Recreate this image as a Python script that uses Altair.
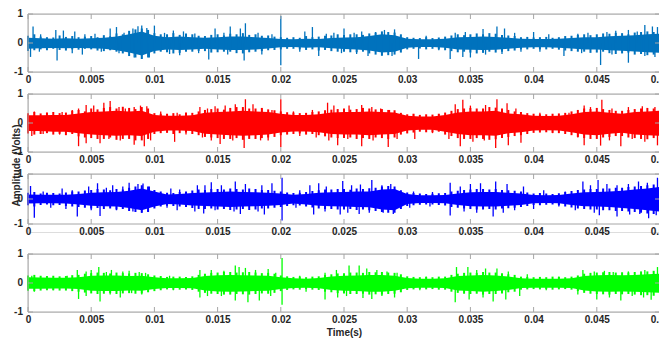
import altair as alt
import pandas as pd

# ---------------- data ----------------
X_DOMAIN = [0, 0.05]
Y_DOMAIN = [-1, 1]
X_TICKS = [0, 0.005, 0.01, 0.015, 0.02, 0.025, 0.03, 0.035, 0.04, 0.045, 0.05]
Y_TICKS = [-1, 0, 1]
Y_LABELS = ["-1", "0", "1"]
ENV_MS = list(range(51))                 # dense-band envelope sample times, ms
HAIR_MS = [i * 0.5 for i in range(101)]  # texture-spike sample times, ms

# ---- panel 1 ----
hi1 = [0.18, 0.16, 0.15, 0.16, 0.15, 0.16, 0.18, 0.22, 0.3, 0.4, 0.25, 0.2, 0.22, 0.2, 0.18, 0.2, 0.22,
       0.22, 0.2, 0.17, 0.14, 0.13, 0.15, 0.14, 0.17, 0.19, 0.2, 0.24, 0.3, 0.27, 0.15, 0.13, 0.13, 0.15,
       0.2, 0.21, 0.22, 0.21, 0.18, 0.15, 0.14, 0.14, 0.15, 0.17, 0.2, 0.2, 0.23, 0.25, 0.27, 0.3, 0.32]
lo1 = [-0.2, -0.18, -0.17, -0.18, -0.17, -0.18, -0.2, -0.25, -0.33, -0.43, -0.28, -0.22, -0.24, -0.22,
       -0.2, -0.22, -0.24, -0.24, -0.22, -0.19, -0.15, -0.14, -0.16, -0.15, -0.18, -0.21, -0.22, -0.26,
       -0.33, -0.3, -0.16, -0.14, -0.14, -0.16, -0.22, -0.23, -0.24, -0.23, -0.2, -0.16, -0.15, -0.15,
       -0.16, -0.19, -0.22, -0.22, -0.25, -0.27, -0.29, -0.32, -0.34]
hairU1 = [0.25, 0.3, 0.22, 0.2, 0.19, 0.26, 0.21, 0.24, 0.2, 0.22, 0.24, 0.2, 0.27, 0.23, 0.33, 0.3, 0.42, 0.47, 0.5, 0.45,
          0.34, 0.3, 0.3, 0.34, 0.28, 0.33, 0.3, 0.25, 0.24, 0.28, 0.3, 0.26, 0.32, 0.3, 0.34, 0.28, 0.3, 0.25, 0.26, 0.22,
          0.2, 0.18, 0.2, 0.18, 0.24, 0.2, 0.22, 0.25, 0.26, 0.3, 0.28, 0.3, 0.3, 0.28, 0.33, 0.36, 0.4, 0.38, 0.36, 0.3,
          0.2, 0.18, 0.17, 0.2, 0.17, 0.19, 0.22, 0.26, 0.3, 0.27, 0.3, 0.33, 0.3, 0.34, 0.32, 0.28, 0.26, 0.24, 0.2, 0.21,
          0.19, 0.2, 0.21, 0.18, 0.2, 0.24, 0.25, 0.28, 0.3, 0.27, 0.3, 0.33, 0.32, 0.35, 0.34, 0.3, 0.36, 0.38, 0.4, 0.38,
          0.42]
hairD1 = [-0.28, -0.25, -0.22, -0.25, -0.2, -0.24, -0.26, -0.22, -0.23, -0.2, -0.22, -0.26, -0.28, -0.25, -0.3, -0.36, -0.45, -0.5, -0.55, -0.5,
          -0.36, -0.3, -0.32, -0.36, -0.34, -0.3, -0.3, -0.27, -0.28, -0.33, -0.32, -0.3, -0.3, -0.35, -0.36, -0.32, -0.3, -0.28, -0.25, -0.24,
          -0.22, -0.2, -0.2, -0.22, -0.24, -0.22, -0.26, -0.24, -0.28, -0.3, -0.3, -0.32, -0.32, -0.3, -0.36, -0.4, -0.44, -0.42, -0.4, -0.33,
          -0.22, -0.2, -0.19, -0.22, -0.2, -0.22, -0.25, -0.28, -0.32, -0.3, -0.33, -0.36, -0.34, -0.3, -0.33, -0.3, -0.28, -0.26, -0.22, -0.22,
          -0.2, -0.22, -0.22, -0.2, -0.23, -0.26, -0.28, -0.3, -0.3, -0.34, -0.33, -0.3, -0.35, -0.38, -0.36, -0.33, -0.4, -0.38, -0.42, -0.4,
          -0.44]
spk1 = [(0.4, 0.57), (1.0, 0.3), (2.2, 0.45), (2.8, 0.43), (3.7, 0.4), (4.5, 0.3), (5.3, 0.32), (6.5, 0.5),
        (7.0, 0.55), (7.6, 0.35), (8.3, 0.5), (8.7, 0.58), (9.0, 0.6), (9.4, 0.52), (10.0, 0.6), (10.8, 0.35),
        (11.5, 0.43), (12.3, 0.4), (13.2, 0.33), (14.8, 0.5), (15.5, 0.35), (16.0, 0.57), (16.8, 0.5),
        (17.2, 0.68), (18.2, 0.35), (19.3, 0.3), (20.0, 0.93), (21.9, 0.4), (22.5, 0.55), (23.6, 0.32),
        (24.2, 0.35), (25.0, 0.5), (25.8, 0.35), (26.4, 0.4), (27.5, 0.38), (28.2, 0.45), (29.0, 0.47),
        (31.5, 0.25), (33.8, 0.35), (34.6, 0.38), (36.0, 0.48), (37.1, 0.57), (37.7, 0.5), (38.5, 0.35),
        (40.0, 0.38), (41.2, 0.3), (43.5, 0.32), (44.3, 0.35), (45.8, 0.38), (46.5, 0.42), (47.5, 0.45),
        (48.2, 0.4), (48.8, 0.62), (49.4, 0.57), (49.8, 0.55),
        (0.2, -0.48), (0.9, -0.3), (2.3, -0.6), (3.5, -0.35), (4.3, -0.4), (5.8, -0.3), (7.2, -0.35),
        (8.4, -0.5), (9.0, -0.55), (9.6, -0.5), (11.2, -0.38), (12.0, -0.42), (13.5, -0.35), (14.3, -0.57),
        (15.8, -0.4), (17.1, -0.6), (18.5, -0.4), (20.0, -0.77), (21.5, -0.3), (23.0, -0.45), (24.8, -0.35),
        (26.0, -0.38), (26.9, -0.45), (28.0, -0.42), (28.8, -0.45), (30.9, -0.55), (32.5, -0.25),
        (33.4, -0.55), (34.4, -0.48), (35.0, -0.5), (36.2, -0.4), (37.5, -0.38), (39.0, -0.3), (40.5, -0.3),
        (42.4, -0.45), (43.8, -0.35), (45.3, -0.76), (46.2, -0.4), (47.5, -0.68), (48.8, -0.45), (49.6, -0.48)]

# ---- panel 2 ----
hi2 = [0.27, 0.27, 0.28, 0.28, 0.33, 0.38, 0.4, 0.42, 0.4, 0.42, 0.28, 0.25, 0.25, 0.27, 0.35, 0.38, 0.4,
       0.42, 0.4, 0.38, 0.32, 0.28, 0.28, 0.3, 0.36, 0.38, 0.38, 0.4, 0.38, 0.36, 0.25, 0.22, 0.22, 0.28,
       0.36, 0.4, 0.4, 0.42, 0.33, 0.3, 0.25, 0.24, 0.25, 0.3, 0.38, 0.4, 0.35, 0.32, 0.38, 0.4, 0.42]
lo2 = [-0.28, -0.28, -0.3, -0.3, -0.35, -0.4, -0.42, -0.44, -0.42, -0.45, -0.3, -0.26, -0.26, -0.28, -0.37,
       -0.4, -0.42, -0.44, -0.42, -0.4, -0.33, -0.29, -0.29, -0.32, -0.38, -0.4, -0.4, -0.42, -0.4, -0.38,
       -0.26, -0.23, -0.23, -0.3, -0.38, -0.42, -0.42, -0.44, -0.35, -0.32, -0.26, -0.25, -0.26, -0.32,
       -0.4, -0.42, -0.37, -0.34, -0.4, -0.42, -0.44]
hairU2 = [0.34, 0.38, 0.33, 0.36, 0.38, 0.34, 0.36, 0.42, 0.45, 0.4, 0.5, 0.47, 0.52, 0.55, 0.5, 0.56, 0.52, 0.48, 0.55, 0.5,
          0.34, 0.32, 0.32, 0.34, 0.3, 0.36, 0.35, 0.4, 0.45, 0.48, 0.5, 0.46, 0.52, 0.55, 0.55, 0.5, 0.5, 0.52, 0.47, 0.44,
          0.4, 0.37, 0.36, 0.34, 0.35, 0.38, 0.4, 0.44, 0.46, 0.48, 0.5, 0.46, 0.48, 0.52, 0.5, 0.47, 0.48, 0.45, 0.44, 0.35,
          0.3, 0.32, 0.28, 0.3, 0.29, 0.32, 0.36, 0.42, 0.48, 0.5, 0.52, 0.5, 0.5, 0.55, 0.53, 0.5, 0.45, 0.4, 0.38, 0.34,
          0.32, 0.3, 0.3, 0.32, 0.33, 0.35, 0.4, 0.45, 0.5, 0.48, 0.52, 0.48, 0.45, 0.42, 0.42, 0.45, 0.48, 0.5, 0.52, 0.5,
          0.54]
hairD2 = [-0.36, -0.4, -0.38, -0.35, -0.4, -0.37, -0.42, -0.38, -0.46, -0.5, -0.52, -0.55, -0.55, -0.5, -0.58, -0.55, -0.55, -0.6, -0.6, -0.55,
          -0.38, -0.35, -0.34, -0.38, -0.35, -0.33, -0.38, -0.42, -0.48, -0.5, -0.52, -0.55, -0.55, -0.52, -0.58, -0.55, -0.55, -0.52, -0.5, -0.48,
          -0.42, -0.4, -0.38, -0.36, -0.4, -0.38, -0.42, -0.46, -0.5, -0.52, -0.52, -0.5, -0.55, -0.52, -0.55, -0.5, -0.52, -0.55, -0.5, -0.4,
          -0.36, -0.33, -0.3, -0.32, -0.32, -0.3, -0.4, -0.45, -0.52, -0.55, -0.55, -0.52, -0.55, -0.58, -0.56, -0.52, -0.48, -0.45, -0.42, -0.38,
          -0.34, -0.33, -0.32, -0.34, -0.35, -0.38, -0.42, -0.48, -0.52, -0.55, -0.55, -0.5, -0.48, -0.45, -0.45, -0.5, -0.52, -0.55, -0.56, -0.52,
          -0.55]
spk2 = [(0.5, 0.4), (1.5, 0.35), (2.7, 0.38), (3.5, 0.45), (4.0, 0.5), (4.6, 0.62), (5.2, 0.6), (6.0, 0.7),
        (6.5, 0.76), (7.2, 0.55), (7.7, 0.5), (8.4, 0.55), (8.9, 0.6), (9.4, 0.58), (10.5, 0.4), (11.8, 0.35),
        (13.6, 0.55), (14.2, 0.5), (14.8, 0.58), (15.6, 0.6), (16.4, 0.65), (17.2, 0.82), (17.8, 0.65),
        (18.5, 0.5), (19.3, 0.45), (20.0, 0.82), (21.0, 0.4), (22.5, 0.45), (23.7, 0.7), (24.2, 0.6),
        (25.4, 0.6), (26.4, 0.62), (27.2, 0.55), (27.9, 0.5), (28.6, 0.45), (30.5, 0.3), (32.5, 0.3),
        (33.8, 0.65), (34.4, 0.8), (35.0, 0.6), (36.2, 0.62), (37.1, 0.82), (37.9, 0.68), (38.6, 0.5),
        (40.5, 0.35), (42.8, 0.35), (44.0, 0.6), (44.5, 0.55), (45.4, 0.8), (46.2, 0.5), (47.5, 0.55),
        (48.6, 0.58), (49.6, 0.55),
        (0.3, -0.45), (1.2, -0.38), (2.5, -0.4), (4.0, -0.8), (4.6, -0.7), (5.7, -0.7), (6.4, -0.55),
        (7.3, -0.6), (8.4, -0.75), (9.2, -0.8), (9.7, -0.6), (11.6, -0.65), (12.5, -0.4), (13.8, -0.5),
        (14.5, -0.6), (15.2, -0.72), (16.2, -0.6), (17.1, -0.86), (18.4, -0.6), (19.0, -0.6), (20.0, -0.83),
        (21.5, -0.45), (22.8, -0.5), (23.8, -0.6), (24.5, -0.77), (25.3, -0.55), (26.4, -0.8), (27.3, -0.6),
        (28.5, -0.83), (29.2, -0.55), (30.6, -0.55), (32.0, -0.35), (33.3, -0.55), (34.2, -0.8),
        (35.2, -0.65), (36.1, -0.6), (37.0, -0.86), (38.0, -0.77), (39.0, -0.68), (41.5, -0.35),
        (43.5, -0.5), (44.0, -0.77), (45.3, -0.78), (46.0, -0.6), (46.9, -0.8), (47.8, -0.55),
        (48.8, -0.65), (49.8, -0.77)]

# ---- panel 3 ----
hi3 = [0.18, 0.17, 0.17, 0.17, 0.2, 0.25, 0.27, 0.28, 0.33, 0.42, 0.3, 0.18, 0.2, 0.24, 0.26, 0.28, 0.3,
       0.28, 0.27, 0.25, 0.22, 0.17, 0.2, 0.25, 0.27, 0.28, 0.3, 0.3, 0.38, 0.4, 0.2, 0.15, 0.15, 0.16,
       0.22, 0.27, 0.28, 0.28, 0.25, 0.22, 0.16, 0.15, 0.16, 0.22, 0.27, 0.28, 0.3, 0.33, 0.38, 0.42, 0.48]
lo3 = [-0.18, -0.17, -0.17, -0.18, -0.22, -0.27, -0.29, -0.3, -0.36, -0.45, -0.3, -0.2, -0.22, -0.26,
       -0.28, -0.3, -0.32, -0.3, -0.29, -0.27, -0.24, -0.18, -0.22, -0.27, -0.29, -0.3, -0.32, -0.33, -0.42,
       -0.45, -0.2, -0.16, -0.16, -0.17, -0.24, -0.29, -0.3, -0.3, -0.27, -0.24, -0.17, -0.16, -0.17, -0.24,
       -0.29, -0.3, -0.32, -0.36, -0.4, -0.45, -0.5]
hairU3 = [0.25, 0.28, 0.22, 0.25, 0.24, 0.22, 0.26, 0.3, 0.3, 0.34, 0.36, 0.4, 0.38, 0.35, 0.4, 0.38, 0.45, 0.5, 0.55, 0.5,
          0.36, 0.3, 0.25, 0.24, 0.28, 0.3, 0.34, 0.38, 0.36, 0.4, 0.4, 0.38, 0.42, 0.4, 0.38, 0.42, 0.4, 0.36, 0.36, 0.33,
          0.3, 0.26, 0.24, 0.25, 0.28, 0.32, 0.35, 0.38, 0.38, 0.4, 0.4, 0.37, 0.42, 0.4, 0.43, 0.45, 0.5, 0.52, 0.5, 0.35,
          0.26, 0.24, 0.22, 0.2, 0.21, 0.23, 0.24, 0.3, 0.33, 0.36, 0.38, 0.4, 0.4, 0.38, 0.4, 0.36, 0.35, 0.33, 0.3, 0.26,
          0.22, 0.24, 0.22, 0.2, 0.23, 0.28, 0.32, 0.36, 0.38, 0.4, 0.4, 0.42, 0.42, 0.45, 0.45, 0.48, 0.5, 0.52, 0.55, 0.58,
          0.62]
hairD3 = [-0.25, -0.3, -0.24, -0.22, -0.25, -0.24, -0.28, -0.3, -0.32, -0.35, -0.38, -0.36, -0.4, -0.38, -0.42, -0.4, -0.48, -0.52, -0.55, -0.52,
          -0.38, -0.3, -0.27, -0.28, -0.3, -0.32, -0.36, -0.4, -0.4, -0.38, -0.42, -0.4, -0.44, -0.42, -0.4, -0.44, -0.42, -0.38, -0.38, -0.35,
          -0.32, -0.28, -0.25, -0.26, -0.3, -0.34, -0.38, -0.4, -0.4, -0.42, -0.42, -0.4, -0.44, -0.42, -0.45, -0.48, -0.52, -0.55, -0.55, -0.4,
          -0.28, -0.25, -0.23, -0.22, -0.22, -0.24, -0.26, -0.32, -0.35, -0.38, -0.4, -0.42, -0.42, -0.4, -0.42, -0.38, -0.37, -0.35, -0.32, -0.28,
          -0.24, -0.25, -0.23, -0.22, -0.25, -0.3, -0.34, -0.38, -0.4, -0.42, -0.42, -0.45, -0.45, -0.48, -0.48, -0.5, -0.52, -0.55, -0.58, -0.6,
          -0.62]
spk3 = [(0.2, 0.52), (1.2, 0.3), (2.7, 0.42), (3.5, 0.35), (4.8, 0.5), (5.5, 0.63), (6.2, 0.45), (6.7, 0.55),
        (7.5, 0.5), (8.0, 0.65), (8.7, 0.6), (9.1, 0.62), (9.6, 0.5), (11.3, 0.42), (12.0, 0.38), (13.4, 0.55),
        (14.0, 0.55), (14.5, 0.67), (15.3, 0.55), (16.4, 0.7), (17.2, 0.6), (18.5, 0.55), (19.3, 0.63),
        (20.1, 0.85), (21.5, 0.35), (22.3, 0.55), (23.0, 0.63), (23.6, 0.5), (24.9, 0.72), (25.6, 0.55),
        (26.3, 0.58), (27.2, 0.76), (28.0, 0.55), (28.7, 0.6), (30.5, 0.3), (32.0, 0.28), (33.4, 0.65),
        (34.2, 0.5), (35.0, 0.6), (35.8, 0.63), (37.0, 0.7), (37.9, 0.6), (39.2, 0.5), (40.8, 0.35),
        (42.5, 0.3), (43.9, 0.7), (44.5, 0.55), (45.1, 0.76), (45.8, 0.6), (46.6, 0.55), (47.5, 0.6),
        (48.3, 0.7), (49.0, 0.65), (49.8, 0.85),
        (0.5, -0.75), (1.8, -0.35), (3.0, -0.4), (3.9, -0.7), (5.0, -0.45), (5.7, -0.68), (7.0, -0.45),
        (8.3, -0.5), (9.0, -0.55), (9.5, -0.5), (11.0, -0.35), (11.8, -0.45), (13.2, -0.5), (13.9, -0.58),
        (14.8, -0.45), (16.3, -0.5), (16.8, -0.6), (18.2, -0.5), (18.7, -0.62), (20.1, -0.86), (21.2, -0.35),
        (22.6, -0.62), (23.5, -0.5), (24.7, -0.62), (25.3, -0.55), (26.2, -0.6), (27.0, -0.55), (28.1, -0.55),
        (28.9, -0.6), (30.2, -0.35), (31.8, -0.3), (33.4, -0.66), (34.5, -0.5), (35.5, -0.55), (36.8, -0.7),
        (37.6, -0.55), (38.5, -0.45), (40.0, -0.4), (42.0, -0.3), (43.3, -0.45), (44.8, -0.55), (45.2, -0.65),
        (46.6, -0.7), (47.6, -0.62), (48.4, -0.6), (49.1, -0.77), (49.7, -0.65)]

# ---- panel 4 ----
hi4 = [0.2, 0.19, 0.18, 0.18, 0.2, 0.25, 0.26, 0.26, 0.24, 0.25, 0.2, 0.16, 0.16, 0.17, 0.24, 0.27, 0.28,
       0.27, 0.26, 0.25, 0.2, 0.16, 0.15, 0.17, 0.22, 0.25, 0.26, 0.28, 0.28, 0.25, 0.17, 0.15, 0.15, 0.16,
       0.24, 0.26, 0.28, 0.26, 0.22, 0.16, 0.15, 0.15, 0.15, 0.16, 0.24, 0.27, 0.28, 0.27, 0.28, 0.3, 0.32]
lo4 = [-0.2, -0.2, -0.19, -0.19, -0.21, -0.27, -0.28, -0.28, -0.26, -0.27, -0.21, -0.17, -0.17, -0.18,
       -0.26, -0.29, -0.3, -0.29, -0.28, -0.27, -0.21, -0.17, -0.16, -0.18, -0.24, -0.27, -0.28, -0.3, -0.3,
       -0.27, -0.18, -0.16, -0.16, -0.17, -0.26, -0.28, -0.3, -0.28, -0.24, -0.17, -0.16, -0.16, -0.16,
       -0.17, -0.26, -0.29, -0.3, -0.29, -0.3, -0.32, -0.34]
hairU4 = [0.26, 0.28, 0.25, 0.24, 0.25, 0.23, 0.24, 0.27, 0.28, 0.32, 0.34, 0.36, 0.35, 0.33, 0.36, 0.34, 0.33, 0.35, 0.34, 0.3,
          0.26, 0.24, 0.21, 0.22, 0.22, 0.21, 0.23, 0.28, 0.32, 0.35, 0.36, 0.38, 0.38, 0.36, 0.37, 0.38, 0.36, 0.34, 0.35, 0.32,
          0.26, 0.23, 0.21, 0.22, 0.2, 0.22, 0.23, 0.28, 0.3, 0.33, 0.34, 0.36, 0.36, 0.35, 0.38, 0.37, 0.38, 0.36, 0.35, 0.3,
          0.23, 0.21, 0.2, 0.21, 0.2, 0.22, 0.22, 0.28, 0.32, 0.35, 0.36, 0.35, 0.38, 0.36, 0.36, 0.34, 0.3, 0.28, 0.22, 0.21,
          0.2, 0.21, 0.2, 0.22, 0.21, 0.2, 0.22, 0.26, 0.32, 0.35, 0.36, 0.37, 0.38, 0.36, 0.37, 0.36, 0.38, 0.4, 0.4, 0.42,
          0.44]
hairD4 = [-0.27, -0.28, -0.26, -0.25, -0.25, -0.26, -0.26, -0.28, -0.3, -0.33, -0.36, -0.38, -0.37, -0.35, -0.38, -0.36, -0.35, -0.37, -0.36, -0.32,
          -0.28, -0.25, -0.22, -0.23, -0.23, -0.22, -0.24, -0.3, -0.34, -0.37, -0.38, -0.4, -0.4, -0.38, -0.39, -0.4, -0.38, -0.36, -0.37, -0.34,
          -0.28, -0.24, -0.22, -0.23, -0.21, -0.23, -0.24, -0.3, -0.32, -0.35, -0.36, -0.38, -0.38, -0.37, -0.4, -0.39, -0.4, -0.38, -0.37, -0.32,
          -0.24, -0.22, -0.21, -0.22, -0.21, -0.23, -0.23, -0.3, -0.34, -0.37, -0.38, -0.37, -0.4, -0.38, -0.38, -0.36, -0.32, -0.3, -0.23, -0.22,
          -0.21, -0.22, -0.21, -0.23, -0.22, -0.21, -0.23, -0.28, -0.34, -0.37, -0.38, -0.39, -0.4, -0.38, -0.39, -0.38, -0.4, -0.42, -0.42, -0.44,
          -0.46]
spk4 = [(0.3, 0.25), (1.5, 0.22), (3.1, 0.25), (3.9, 0.45), (4.6, 0.4), (5.0, 0.45), (5.6, 0.55), (6.2, 0.38),
        (6.6, 0.45), (7.5, 0.4), (8.0, 0.42), (8.8, 0.38), (9.3, 0.35), (11.2, 0.25), (13.6, 0.45),
        (14.5, 0.45), (15.5, 0.42), (16.4, 0.6), (16.7, 0.55), (17.2, 0.52), (18.0, 0.45), (19.0, 0.48),
        (19.6, 0.35), (20.1, 0.86), (21.5, 0.25), (23.5, 0.35), (24.4, 0.45), (25.4, 0.6), (26.2, 0.6),
        (26.8, 0.5), (27.6, 0.45), (28.4, 0.4), (29.2, 0.35), (31.5, 0.22), (33.9, 0.55), (34.8, 0.55),
        (35.5, 0.45), (36.2, 0.5), (37.1, 0.5), (38.0, 0.4), (39.5, 0.3), (42.0, 0.22), (43.9, 0.45),
        (44.8, 0.4), (45.6, 0.42), (46.3, 0.38), (47.5, 0.4), (48.8, 0.45), (49.8, 0.55),
        (0.5, -0.3), (2.0, -0.25), (4.0, -0.55), (4.6, -0.45), (5.7, -0.64), (6.5, -0.4), (7.3, -0.5),
        (8.2, -0.35), (9.0, -0.4), (11.5, -0.25), (13.6, -0.5), (14.2, -0.45), (15.3, -0.45), (16.4, -0.6),
        (17.4, -0.66), (18.3, -0.6), (19.2, -0.45), (20.1, -0.75), (22.0, -0.3), (23.5, -0.57), (24.5, -0.5),
        (25.2, -0.45), (26.5, -0.52), (27.2, -0.55), (28.0, -0.45), (29.0, -0.5), (31.0, -0.25),
        (33.8, -0.66), (34.9, -0.57), (36.0, -0.5), (36.8, -0.64), (37.8, -0.57), (38.9, -0.45),
        (41.0, -0.25), (43.5, -0.4), (45.0, -0.57), (46.0, -0.5), (46.9, -0.6), (47.8, -0.45), (48.7, -0.5),
        (49.3, -0.58)]

COLORS = ["#0072BD", "#FF0000", "#0000FF", "#00FF00"]

# ---------------- styling ----------------
W = 632
FONT = "Liberation Sans"
TXT = "#262626"
BOX = "#a6a6a6"


def panel(hi, lo, hair_u, hair_d, spikes, color, box_h, view_h, xtitle=False, ytitle=False):
    env = pd.DataFrame({"t": [m / 1000 for m in ENV_MS], "hi": hi, "lo": lo})
    hair = [(m / 1000, v) for m, v in zip(HAIR_MS, hair_u)]
    hair += [(m / 1000, v) for m, v in zip(HAIR_MS, hair_d)]
    hr = pd.DataFrame({"t": [r[0] for r in hair], "v": [r[1] for r in hair], "b": [0 for r in hair]})
    sp = pd.DataFrame({"t": [s[0] / 1000 for s in spikes], "v": [s[1] for s in spikes],
                       "b": [0 for s in spikes]})
    xt = pd.DataFrame({"t": X_TICKS})
    yt = pd.DataFrame({"v": Y_TICKS, "lab": Y_LABELS})
    frame = pd.DataFrame({"x0": [X_DOMAIN[0]], "x1": [X_DOMAIN[1]],
                          "y0": [Y_DOMAIN[0]], "y1": [Y_DOMAIN[1]]})

    xs = alt.Scale(domain=X_DOMAIN, nice=False, zero=False)
    ys = alt.Scale(domain=Y_DOMAIN, range=[box_h, 0], nice=False, zero=False)

    xargs = dict(values=X_TICKS, format="~g", domain=False, ticks=False, grid=False,
                 labelPadding=2, labelFont=FONT, labelFontSize=10, labelFontWeight="bold",
                 labelColor=TXT, labelFlush=False, labelOverlap=False)
    if view_h != box_h:
        xargs["offset"] = box_h - view_h
    if xtitle:
        xargs.update(title="Time(s)", titleFont=FONT, titleFontSize=10, titleFontWeight="bold",
                     titleColor=TXT, titlePadding=3)
    else:
        xargs["title"] = ""
    yargs = dict(values=Y_TICKS, domain=False, ticks=False, grid=False, labels=False)
    if ytitle:
        yargs.update(title="Amplitude (Volts)", titleFont=FONT, titleFontSize=10,
                     titleFontWeight="bold", titleColor=TXT, titleX=-12, titleY=-9,
                     titleAngle=270, titleAlign="center", titleBaseline="middle")
    else:
        yargs["title"] = ""

    band = alt.Chart(env).mark_area(color=color, opacity=1).encode(
        x=alt.X("t:Q", scale=xs, axis=alt.Axis(**xargs)),
        y=alt.Y("lo:Q", scale=ys, axis=alt.Axis(**yargs)),
        y2="hi:Q",
    )
    hairs = alt.Chart(hr).mark_rule(color=color, strokeWidth=2).encode(
        x="t:Q", y="b:Q", y2="v:Q"
    )
    spk = alt.Chart(sp).mark_rule(color=color, strokeWidth=1.3).encode(
        x="t:Q", y="b:Q", y2="v:Q"
    )
    box = alt.Chart(frame).mark_rect(filled=False, stroke=BOX, strokeWidth=1).encode(
        x="x0:Q", x2="x1:Q", y="y0:Q", y2="y1:Q"
    )
    tb = alt.Chart(xt).mark_rule(color=BOX).encode(x="t:Q", y=alt.value(box_h), y2=alt.value(box_h - 5))
    tt = alt.Chart(xt).mark_rule(color=BOX).encode(x="t:Q", y=alt.value(0), y2=alt.value(5))
    tl = alt.Chart(yt).mark_rule(color=BOX).encode(y="v:Q", x=alt.value(0), x2=alt.value(5))
    tr = alt.Chart(yt).mark_rule(color=BOX).encode(y="v:Q", x=alt.value(W), x2=alt.value(W - 5))
    ylab = alt.Chart(yt).mark_text(align="right", baseline="middle", font=FONT, fontSize=10,
                                   fontWeight="bold", color=TXT).encode(
        y="v:Q", x=alt.value(-5), text="lab:N"
    )
    return alt.layer(band, hairs, spk, box, tb, tt, tl, tr, ylab).properties(width=W, height=view_h)


p1 = panel(hi1, lo1, hairU1, hairD1, spk1, COLORS[0], 58, 58)
p2 = panel(hi2, lo2, hairU2, hairD2, spk2, COLORS[1], 58, 58)
p3 = panel(hi3, lo3, hairU3, hairD3, spk3, COLORS[2], 50, 58, ytitle=True)
p4 = panel(hi4, lo4, hairU4, hairD4, spk4, COLORS[3], 58, 58, xtitle=True)

chart = alt.vconcat(p1, p2, p3, p4, spacing=22, bounds="flush").properties(
    padding={"top": 0, "left": 2, "right": -12, "bottom": 0}
).configure_view(stroke="transparent").configure(background="white")

chart.save("out.html", embed_options={"renderer": "svg", "actions": False})
